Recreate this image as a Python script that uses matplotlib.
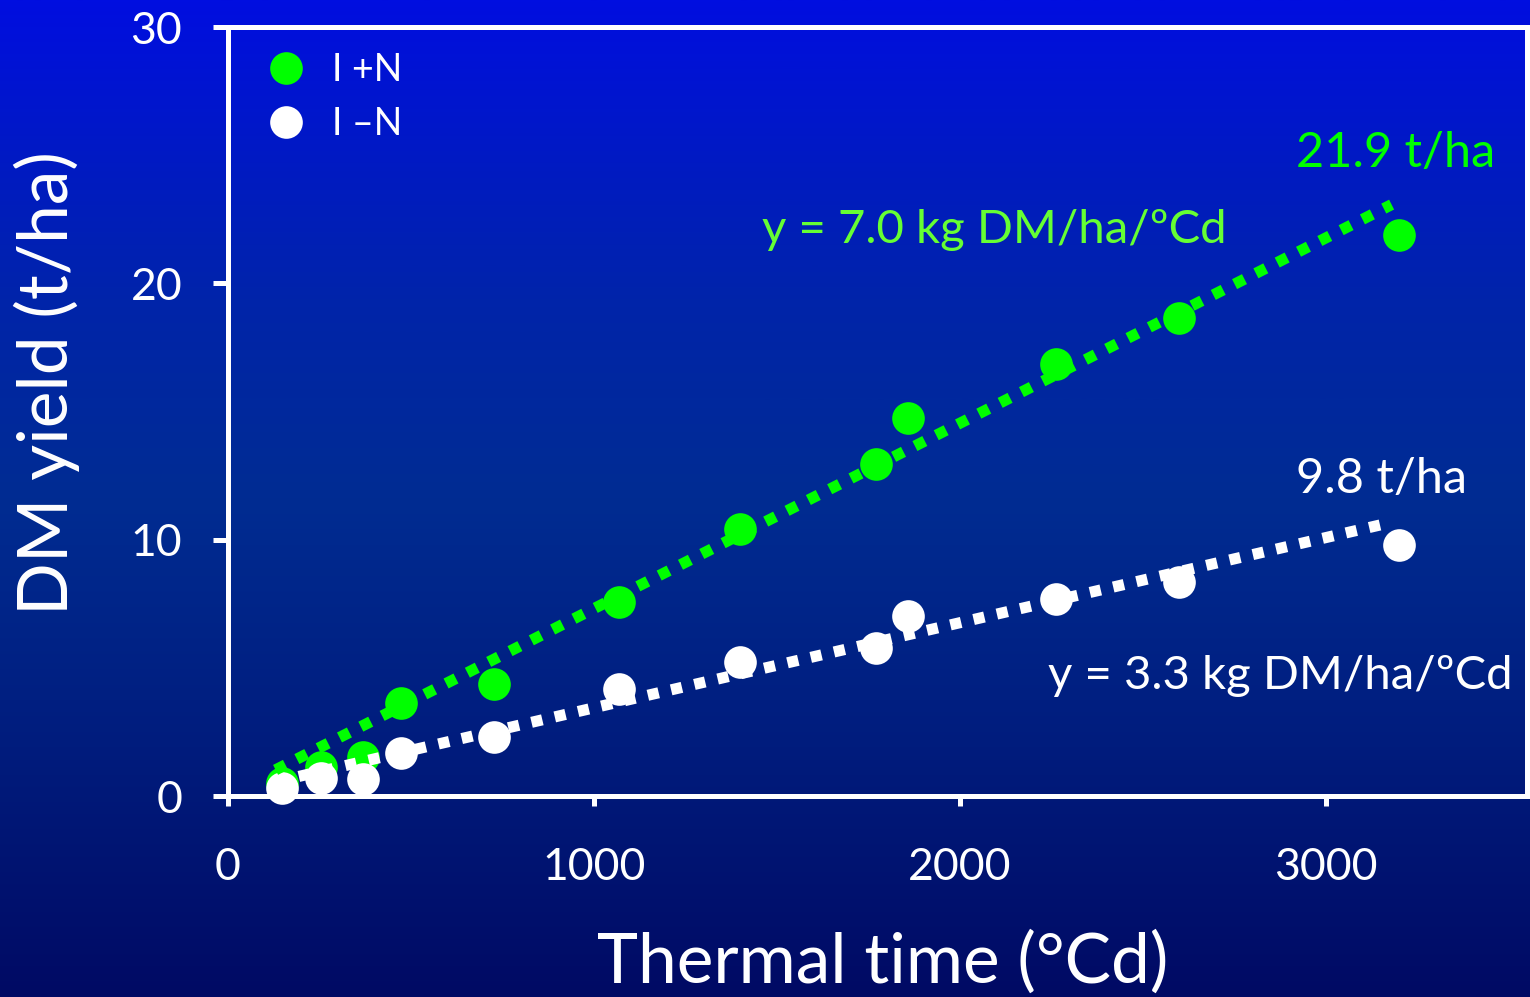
import numpy as np
import matplotlib
matplotlib.use("Agg")
import matplotlib.pyplot as plt
from matplotlib.lines import Line2D
from matplotlib.colors import LinearSegmentedColormap

plt.rcParams['font.family'] = ['Lato', 'DejaVu Sans']

# ---- data ----
thermal_time = [148, 254, 369, 473, 727, 1068, 1399, 1770, 1858, 2262, 2598, 3199]
yield_plusN = [0.5, 1.13, 1.52, 3.62, 4.36, 7.56, 10.4, 12.97, 14.76, 16.87, 18.66, 21.9]
yield_minusN = [0.31, 0.70, 0.66, 1.68, 2.3, 4.17, 5.22, 5.77, 7.01, 7.7, 8.34, 9.8]

# trend lines (intercept t/ha, slope t/ha per °Cd) and their drawn range
trend_plusN = (0.08, 0.00723)
trend_minusN = (0.12, 0.00332)
trend_range_plusN = [130, 3180]
trend_range_minusN = [130, 3165]

series_labels = ['I +N', 'I \u2013N']
x_ticks = [0, 1000, 2000, 3000]
y_ticks = [0, 10, 20, 30]

GREEN = '#00FF00'
EQ_GREEN = '#66FF33'
WHITE = '#FFFFFF'

W, H, DPI = 1530, 997, 100
fig = plt.figure(figsize=(W / DPI, H / DPI), dpi=DPI)

# background gradient
bg = fig.add_axes([0, 0, 1, 1], zorder=-10)
cmap = LinearSegmentedColormap.from_list('bg', [
    (0.0, (0 / 255, 14 / 255, 224 / 255)),
    (0.30, (0 / 255, 36 / 255, 170 / 255)),
    (0.50, (0 / 255, 44 / 255, 146 / 255)),
    (0.75, (0 / 255, 28 / 255, 125 / 255)),
    (1.0, (0 / 255, 10 / 255, 100 / 255)),
])
grad = np.linspace(0, 1, 512).reshape(-1, 1)
bg.imshow(grad, aspect='auto', cmap=cmap, extent=[0, 1, 1, 0])
bg.set_axis_off()

left, right = 228 / W, 1527 / W
bottom, top = (H - 796) / H, (H - 27) / H
ax = fig.add_axes([left, bottom, right - left, top - bottom])
ax.patch.set_alpha(0)

ax.set_xlim(0, 3550)
ax.set_ylim(0, 30)

# markers
ax.plot(thermal_time, yield_plusN, 'o', color=GREEN, ms=23.5, mew=0, zorder=3, clip_on=False)
ax.plot(thermal_time, yield_minusN, 'o', color=WHITE, ms=23.5, mew=0, zorder=4, clip_on=False)

# trend lines
for (a, b), rng, col, z in [(trend_plusN, trend_range_plusN, GREEN, 5),
                            (trend_minusN, trend_range_minusN, WHITE, 6)]:
    xs = np.array(rng, dtype=float)
    ax.plot(xs, a + b * xs, color=col, lw=8, ls=(0, (1, 1.15)),
            dash_capstyle='butt', zorder=z)

# spines and ticks
for s in ax.spines.values():
    s.set_color(WHITE)
    s.set_linewidth(3.6)
ax.set_xticks(x_ticks)
ax.set_yticks(y_ticks)
ax.tick_params(axis='both', colors=WHITE, labelsize=32, width=3.6, direction='out')
ax.tick_params(axis='y', length=11, pad=22)
ax.tick_params(axis='x', length=7.5, pad=29)

# legend
handles = [Line2D([], [], marker='o', ls='', color=GREEN, ms=23.5, mew=0),
           Line2D([], [], marker='o', ls='', color=WHITE, ms=23.5, mew=0)]
leg = ax.legend(handles, series_labels, loc='upper left', bbox_to_anchor=(0.0154, 0.992),
                borderaxespad=0, borderpad=0.5, frameon=False, fontsize=27,
                handlelength=1.0, handletextpad=0.75, labelspacing=0.48,
                labelcolor=WHITE)

# annotations
ax.text(1459, 22.1, 'y = 7.0 kg DM/ha/\u00baCd', color=EQ_GREEN, fontsize=34,
        ha='left', va='center')
ax.text(2918, 25.1, '21.9 t/ha', color=GREEN, fontsize=35, ha='left', va='center')
ax.text(2918, 12.35, '9.8 t/ha', color=WHITE, fontsize=35, ha='left', va='center')
ax.text(2240, 4.7, 'y = 3.3 kg DM/ha/\u00baCd', color=WHITE, fontsize=34,
        ha='left', va='center')

# axis titles
fig.text(47 / W, 1 - 383 / H, 'DM yield (t/ha)', color=WHITE, fontsize=50,
         rotation=90, ha='center', va='center')
fig.text(883 / W, 1 - 962 / H, 'Thermal time (\u00b0Cd)', color=WHITE, fontsize=50,
         ha='center', va='center')

fig.savefig('out.png', dpi=DPI)
